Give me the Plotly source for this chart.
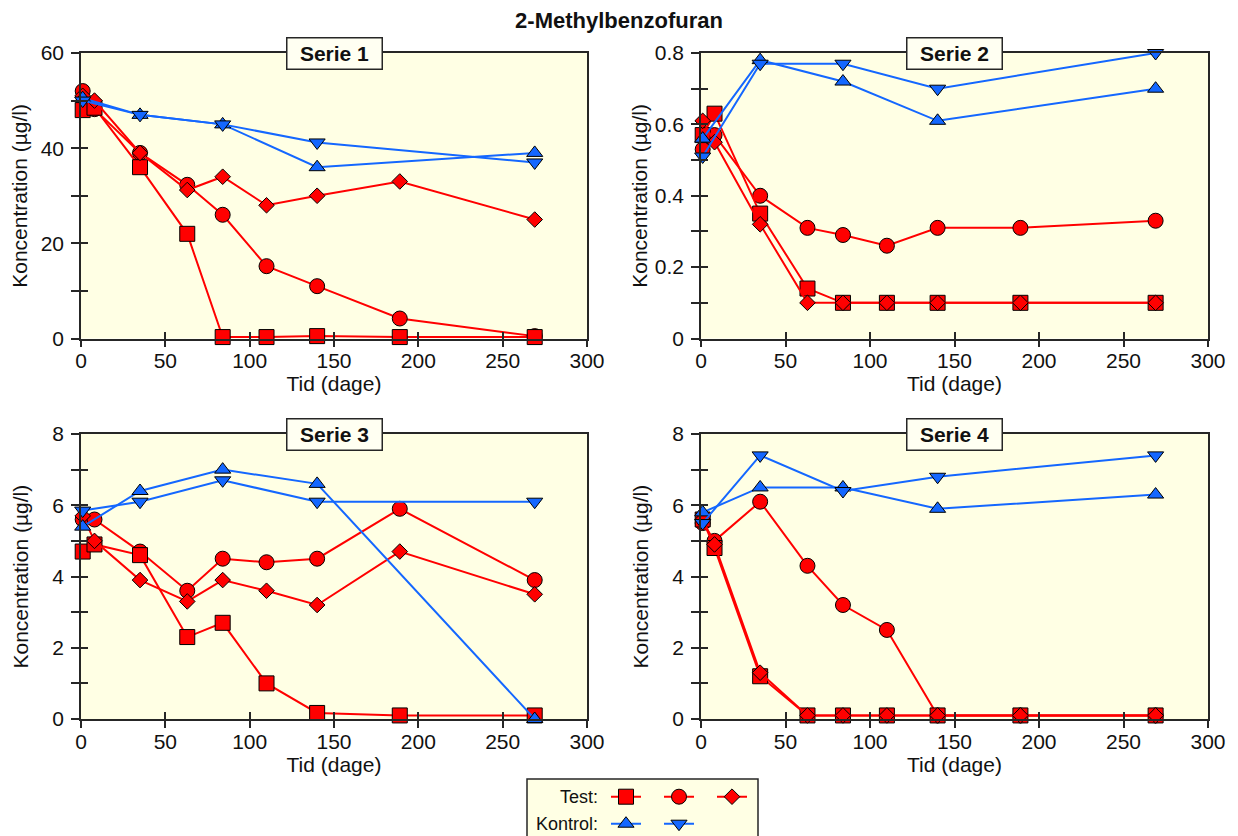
import plotly.graph_objects as go

# ---- data -------------------------------------------------------------
DAYS_TEST = [1, 8, 35, 63, 84, 110, 140, 189, 269]
DAYS_KONTROL = [1, 35, 84, 140, 269]

SERIE_NAMES = ["Serie 1", "Serie 2", "Serie 3", "Serie 4"]
X_TITLE = "Tid (dage)"
Y_TITLE = "Koncentration (µg/l)"

# Test series (square, circle, diamond) per panel
serie1_test_square = [48, 48.5, 36, 22, 0.3, 0.3, 0.5, 0.3, 0.3]
serie1_test_circle = [52, 48.2, 39, 32.3, 26, 15.2, 11, 4.2, 0.5]
serie1_test_diamond = [51, 50, 39, 31.2, 34, 28, 30, 33, 25]
serie1_kontrol_up = [50.5, 47, 45, 36, 39]
serie1_kontrol_down = [50, 47, 45, 41.2, 37]

serie2_test_square = [0.57, 0.63, 0.35, 0.14, 0.10, 0.10, 0.10, 0.10, 0.10]
serie2_test_circle = [0.53, 0.57, 0.40, 0.31, 0.29, 0.26, 0.31, 0.31, 0.33]
serie2_test_diamond = [0.61, 0.55, 0.32, 0.10, 0.10, 0.10, 0.10, 0.10, 0.10]
serie2_kontrol_up = [0.56, 0.78, 0.72, 0.61, 0.70]
serie2_kontrol_down = [0.51, 0.77, 0.77, 0.70, 0.80]

serie3_test_square = [4.7, 4.9, 4.6, 2.3, 2.7, 1.0, 0.17, 0.1, 0.1]
serie3_test_circle = [5.6, 5.6, 4.7, 3.6, 4.5, 4.4, 4.5, 5.9, 3.9]
serie3_test_diamond = [5.7, 5.0, 3.9, 3.3, 3.9, 3.6, 3.2, 4.7, 3.5]
serie3_kontrol_up = [5.4, 6.4, 7.0, 6.6, 0.0]
serie3_kontrol_down = [5.85, 6.1, 6.7, 6.1, 6.1]

serie4_test_square = [5.6, 4.8, 1.2, 0.1, 0.1, 0.1, 0.1, 0.1, 0.1]
serie4_test_circle = [5.5, 5.0, 6.1, 4.3, 3.2, 2.5, 0.1, 0.1, 0.1]
serie4_test_diamond = [5.6, 4.9, 1.3, 0.1, 0.1, 0.1, 0.1, 0.1, 0.1]
serie4_kontrol_up = [5.8, 6.5, 6.5, 5.9, 6.3]
serie4_kontrol_down = [5.5, 7.4, 6.4, 6.8, 7.4]

# y-axis scale per panel: (max, major step, minor step)
Y_SCALES = [(60, 20, 10), (0.8, 0.2, 0.1), (8, 2, 1), (8, 2, 1)]
X_MAX, X_STEP = 300, 50

TEST_DATA = [
    (serie1_test_square, serie1_test_circle, serie1_test_diamond),
    (serie2_test_square, serie2_test_circle, serie2_test_diamond),
    (serie3_test_square, serie3_test_circle, serie3_test_diamond),
    (serie4_test_square, serie4_test_circle, serie4_test_diamond),
]
KONTROL_DATA = [
    (serie1_kontrol_up, serie1_kontrol_down),
    (serie2_kontrol_up, serie2_kontrol_down),
    (serie3_kontrol_up, serie3_kontrol_down),
    (serie4_kontrol_up, serie4_kontrol_down),
]

# ---- style ------------------------------------------------------------
W, H = 1238, 836
FONT = "Liberation Sans, Arial, sans-serif"
RED = "#ff0000"
BLUE = "#1467ff"
AXIS = "#262626"
TEXT = "#111111"
PLOT_BG = "#ffffe4"
BOX_BG = "#fffff2"

# plot-area pixel rectangles (left, right, top, bottom)
AREAS = [(81, 587, 53, 338.5), (701, 1208, 53, 338.5),
         (81, 587, 434, 719), (701, 1208, 434, 719)]

fig = go.Figure()

test_symbols = [("square", 15, 1), ("circle", 15, 2), ("diamond", 12, 3)]
draw_order = [1, 0, 2]  # circle below square, diamond on top

for i in range(4):
    n = i + 1
    xr = "x" if n == 1 else f"x{n}"
    yr = "y" if n == 1 else f"y{n}"
    for k in draw_order:
        sym, size, rank = test_symbols[k]
        fig.add_trace(go.Scatter(
            x=DAYS_TEST, y=TEST_DATA[i][k], xaxis=xr, yaxis=yr,
            mode="lines+markers", cliponaxis=False,
            line=dict(color=RED, width=2),
            marker=dict(symbol=sym, size=size, color=RED,
                        line=dict(color="black", width=1)),
            name=" ", legend="legend", legendrank=rank,
            showlegend=(n == 1), hoverinfo="x+y",
        ))
    for k, sym in enumerate(["triangle-up", "triangle-down"]):
        fig.add_trace(go.Scatter(
            x=DAYS_KONTROL, y=KONTROL_DATA[i][k], xaxis=xr, yaxis=yr,
            mode="lines+markers", cliponaxis=False,
            line=dict(color=BLUE, width=2),
            marker=dict(symbol=sym, size=14, color=BLUE,
                        line=dict(color="black", width=1)),
            name=" ", legend="legend2", legendrank=k + 1,
            showlegend=(n == 1), hoverinfo="x+y",
        ))
    # empty trace carrying the inner tick marks
    fig.add_trace(go.Scatter(x=[], y=[], xaxis=f"x{n + 4}", yaxis=f"y{n + 4}",
                             showlegend=False, hoverinfo="skip"))

layout = {}
for i, (l, r, t, b) in enumerate(AREAS):
    n = i + 1
    ymax, ystep, yminor = Y_SCALES[i]
    xdom = [l / W, r / W]
    ydom = [1 - b / H, 1 - t / H]
    xkey = "xaxis" if n == 1 else f"xaxis{n}"
    ykey = "yaxis" if n == 1 else f"yaxis{n}"
    xr = "x" if n == 1 else f"x{n}"
    yr = "y" if n == 1 else f"y{n}"
    layout[xkey] = dict(
        domain=xdom, anchor=yr, range=[0, X_MAX], tick0=0, dtick=X_STEP,
        automargin=False,
        showgrid=False, zeroline=False, showline=True, mirror=True,
        linecolor=AXIS, linewidth=1.5, ticks="outside", ticklen=7,
        tickwidth=1.5, tickcolor=AXIS, ticklabelstandoff=-4,
        tickfont=dict(size=21, color=TEXT),
        title=dict(text=X_TITLE, font=dict(size=21, color=TEXT), standoff=4),
    )
    layout[ykey] = dict(
        domain=ydom, anchor=xr, range=[0, ymax], tick0=0, dtick=ystep,
        automargin=False,
        showgrid=False, zeroline=False, showline=True, mirror=True,
        linecolor=AXIS, linewidth=1.5, ticks="outside", ticklen=8,
        tickwidth=1.5, tickcolor=AXIS, ticklabelstandoff=3,
        minor=dict(tick0=0, dtick=yminor, ticks="outside", ticklen=8,
                   tickwidth=1.5, tickcolor=AXIS, showgrid=False),
        tickfont=dict(size=21, color=TEXT),
    )
    # overlay axes: inner halves of the crossing tick marks
    layout[f"xaxis{n + 4}"] = dict(
        overlaying=xr, anchor=f"y{n + 4}", range=[0, X_MAX], tick0=0, dtick=X_STEP,
        automargin=False,
        showgrid=False, zeroline=False, showline=False, showticklabels=False,
        ticks="inside", ticklen=7, tickwidth=1.5, tickcolor=AXIS,
    )
    layout[f"yaxis{n + 4}"] = dict(
        overlaying=yr, anchor=f"x{n + 4}", range=[0, ymax], tick0=0, dtick=ystep,
        automargin=False,
        showgrid=False, zeroline=False, showline=False, showticklabels=False,
        ticks="inside", ticklen=7, tickwidth=1.5, tickcolor=AXIS,
        minor=dict(tick0=0, dtick=yminor, ticks="inside", ticklen=7,
                   tickwidth=1.5, tickcolor=AXIS, showgrid=False),
    )

annotations = []
for i, name in enumerate(SERIE_NAMES):
    n = i + 1
    xr = "x" if n == 1 else f"x{n}"
    yr = "y" if n == 1 else f"y{n}"
    # panel caption box straddling the top frame line
    annotations.append(dict(
        text=f"<b>{name}</b>", xref=f"{xr} domain", yref=f"{yr} domain",
        x=0.5, y=1, xanchor="center", yanchor="middle",
        showarrow=False, font=dict(size=21, color=TEXT),
        bgcolor=BOX_BG, bordercolor=AXIS, borderwidth=1.5,
        width=86, height=22, borderpad=4,
    ))
    # y-axis title at a fixed distance from the frame
    annotations.append(dict(
        text=Y_TITLE, xref=f"{xr} domain", yref=f"{yr} domain",
        x=0, y=0.5, xshift=-61, xanchor="center", yanchor="middle",
        textangle=-90, showarrow=False, font=dict(size=21, color=TEXT),
    ))

# legend labels
annotations.append(dict(text="Test:", xref="paper", yref="paper",
                        x=600 / W, y=1 - 797 / H, xanchor="right", yanchor="middle",
                        showarrow=False, font=dict(size=18, color=TEXT)))
annotations.append(dict(text="Kontrol:", xref="paper", yref="paper",
                        x=600 / W, y=1 - 824 / H, xanchor="right", yanchor="middle",
                        showarrow=False, font=dict(size=18, color=TEXT)))

legend_common = dict(
    orientation="h", xanchor="left", yanchor="middle",
    bgcolor="rgba(0,0,0,0)", borderwidth=0, font=dict(size=18, family=FONT),
    entrywidth=8, tracegroupgap=0, itemclick=False, itemdoubleclick=False,
)

fig.update_layout(
    template="none",
    width=W, height=H,
    margin=dict(l=0, r=0, t=0, b=0, autoexpand=False),
    paper_bgcolor="white", plot_bgcolor=PLOT_BG,
    font=dict(family=FONT, color=TEXT),
    title=dict(text="<b>2-Methylbenzofuran</b>", x=0.5, xanchor="center",
               y=1 - 20 / H, yanchor="middle", font=dict(size=22, color=TEXT)),
    annotations=annotations,
    shapes=[dict(type="rect", xref="paper", yref="paper",
                 x0=527 / W, x1=758 / W, y0=-0.05, y1=1 - 779 / H,
                 fillcolor=PLOT_BG, line=dict(color=AXIS, width=1.5), layer="below")],
    legend=dict(x=606 / W, y=1 - 797 / H, **legend_common),
    legend2=dict(x=606 / W, y=1 - 824 / H, **legend_common),
    **layout,
)

fig.write_html("out.html")
